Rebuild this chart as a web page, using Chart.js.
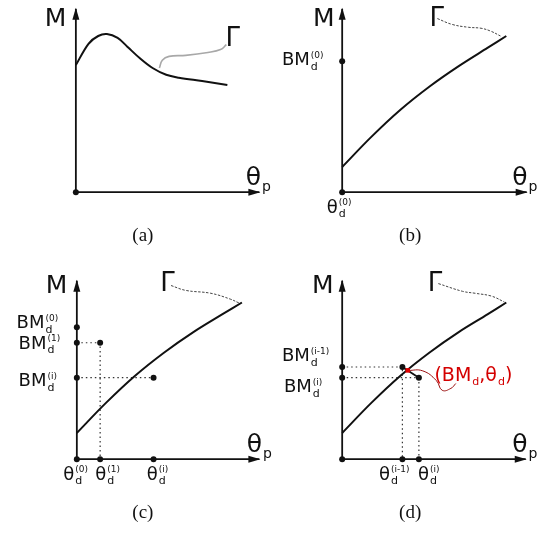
<!DOCTYPE html>
<html>
<head>
<meta charset="utf-8">
<script src="https://cdn.jsdelivr.net/npm/chart.js@4.4.1/dist/chart.umd.min.js"></script>
<style>
  html, body { margin: 0; padding: 0; background: #fff; }
  #wrap { position: relative; width: 554px; height: 533px; }
  #wrap canvas { position: absolute; }
</style>
</head>
<body>
<div id="wrap">
  <canvas id="pa" width="277" height="266" style="left:0;top:0"></canvas>
  <canvas id="pb" width="277" height="266" style="left:277px;top:0"></canvas>
  <canvas id="pc" width="277" height="267" style="left:0;top:266px"></canvas>
  <canvas id="pd" width="277" height="267" style="left:277px;top:266px"></canvas>
</div>
<script>
// schematic units: 0,0 is where the two axes meet in each panel

// (a) moment curve with a hump
const curveA_x = [0, 13, 23, 32, 43, 53, 66, 79, 93, 106, 130, 156];
const curveA_y = [131, 153, 161, 163, 159, 150, 138, 128, 121, 118, 114.5, 110.5];
const gammaA_x = [86, 89, 96, 113, 136, 149, 155];
const gammaA_y = [128, 136, 140, 141, 144, 147, 152];

// (b) rising curve, first guess BM_d^(0)
const curveB_x = [0, 30, 60, 90, 120, 150, 169];
const curveB_y = [26, 57, 85, 109, 130, 149, 161];
const gammaB_x = [98, 113, 130, 143, 153, 163];
const gammaB_y = [179, 173, 170, 169, 166, 161];
const bmB = [135];
const thetaB = [0];

// (c) iterations 0, 1, i
const curveC_x = [0, 30, 60, 90, 120, 150, 170];
const curveC_y = [27, 58, 86, 110, 131, 149.5, 161.5];
const gammaC_x = [97, 112, 138, 158, 167];
const gammaC_y = [179, 174, 171, 165, 161];
const bmC = [136, 120, 84];
const thetaC = [0, 24, 79];
const iterC_x = [24, 79];
const iterC_y = [120, 84];

// (d) iterations i-1 and i around the crossing
const curveD_x = [0, 30, 60, 90, 120, 150, 169];
const curveD_y = [27, 58, 86, 110, 131, 149.5, 161.5];
const gammaD_x = [99, 124, 137, 154, 167];
const gammaD_y = [181, 173, 171, 168, 162];
const bmD = [95, 84];
const thetaD = [0, 62, 79];
const iterD_x = [62, 79];
const iterD_y = [95, 84];
const crossD_x = [67.5];
const crossD_y = [91.5];
const wavyD_x = [67.5, 83, 97, 103, 112, 117];
const wavyD_y = [91.5, 91, 81, 71, 73, 78];

const zip = (xs, ys) => xs.map((x, i) => ({ x, y: ys[i] }));
const FONT = '"DejaVu Sans", sans-serif';

function line(data, extra) {
  return Object.assign({ data, showLine: true, borderColor: '#111', borderWidth: 2, pointRadius: 0, fill: false, clip: false }, extra);
}
function dots(data, extra) {
  return Object.assign({ data, showLine: false, pointRadius: 3, pointBackgroundColor: '#111', pointBorderWidth: 0, clip: false }, extra);
}
const dotted = { borderColor: '#333', borderWidth: 1.2, borderDash: [1.5, 3] };
const dashed = { borderColor: '#444', borderWidth: 1, borderDash: [2.5, 1.5], tension: 0.4 };
const smooth = { tension: 0.35 };

function axes(lx, ly) {
  return [
    line([{ x: 0, y: 0 }, { x: lx, y: 0 }], { borderWidth: 1.8 }),
    line([{ x: 0, y: 0 }, { x: 0, y: ly }], { borderWidth: 1.8 })
  ];
}

function drawRuns(ctx, x, y, runs, size, color) {
  ctx.fillStyle = color;
  ctx.textAlign = 'left';
  ctx.textBaseline = 'alphabetic';
  for (const r of runs) {
    if (typeof r === 'string') {
      ctx.font = `${size}px ${FONT}`;
      ctx.fillText(r, x, y);
      x += ctx.measureText(r).width;
    } else {
      let w = 0;
      if (r.sub) {
        ctx.font = `${Math.round(size * (r.subScale || 0.6))}px ${FONT}`;
        ctx.fillText(r.sub, x + 1, y + size * (r.subDy || 0.25));
        w = ctx.measureText(r.sub).width;
      }
      if (r.sup) {
        ctx.font = `${Math.round(size * 0.5)}px ${FONT}`;
        ctx.fillText(r.sup, x + 1, y - size * 0.42);
        w = Math.max(w, ctx.measureText(r.sup).width);
      }
      x += w + 1;
    }
  }
}

const decor = {
  id: 'decor',
  afterDatasetsDraw(chart, args, opts) {
    const { ctx } = chart;
    const xs = chart.scales.x, ys = chart.scales.y;
    const X = v => xs.getPixelForValue(v), Y = v => ys.getPixelForValue(v);
    ctx.save();
    // arrow heads
    ctx.fillStyle = '#111';
    const ox = X(0), oy = Y(0);
    const tx = X(opts.axisX), ty = Y(opts.axisY);
    ctx.beginPath();
    ctx.moveTo(tx + 1, oy); ctx.lineTo(tx - 11, oy - 3.5); ctx.lineTo(tx - 11, oy + 3.5); ctx.closePath(); ctx.fill();
    ctx.beginPath();
    ctx.moveTo(ox, ty - 1); ctx.lineTo(ox - 3.5, ty + 11); ctx.lineTo(ox + 3.5, ty + 11); ctx.closePath(); ctx.fill();
    // labels
    for (const l of opts.labels) {
      drawRuns(ctx, X(l.x), Y(l.y), l.runs, l.size, l.color || '#111');
    }
    // caption
    ctx.font = '19px "Liberation Serif", serif';
    ctx.fillStyle = '#111';
    ctx.textAlign = 'center';
    ctx.fillText(opts.caption, X(opts.capX), Y(opts.capY));
    ctx.restore();
  }
};

function commonLabels(mx, gx, gy) {
  return [
    { x: mx, y: 171, runs: ['M'], size: 25 },
    { x: gx, y: gy, runs: ['Γ'], size: 26 },
    { x: 175, y: 7, runs: ['θ', { sub: 'p', subScale: 0.55, subDy: 0.22 }], size: 25 }
  ];
}
const bm = (x, y, sup) => ({ x, y, runs: ['BM', { sub: 'd', sup }], size: 18 });
const th = (x, sup) => ({ x, y: -21, runs: ['θ', { sub: 'd', sup }], size: 18 });

function makePanel(id, ox, oy, datasets, deco) {
  const cv = document.getElementById(id);
  return new Chart(cv, {
    type: 'scatter',
    data: { datasets },
    options: {
      responsive: false,
      animation: false,
      devicePixelRatio: 1,
      layout: { padding: 0 },
      events: [],
      plugins: { legend: { display: false }, tooltip: { enabled: false }, decor: deco },
      scales: {
        x: { type: 'linear', display: false, min: -ox, max: cv.width - ox },
        y: { type: 'linear', display: false, min: -(cv.height - oy), max: oy }
      }
    },
    plugins: [decor]
  });
}

// (a)
makePanel('pa', 74, 194, [
  dots([{ x: 0, y: 0 }]),
  line(zip(curveA_x, curveA_y), smooth),
  line(zip(gammaA_x, gammaA_y), { borderColor: '#a8a8a8', borderWidth: 1.6, tension: 0.4 }),
  ...axes(189, 189)
], { axisX: 189, axisY: 189, labels: commonLabels(-32, 154, 151), caption: '(a)', capX: 69, capY: -50 });

// (b)
makePanel('pb', 63, 194, [
  dots(zip(thetaB.map(() => 0), bmB)),
  dots(zip(thetaB, thetaB.map(() => 0))),
  line(zip(curveB_x, curveB_y), smooth),
  line(zip(gammaB_x, gammaB_y), dashed),
  ...axes(190, 189)
], {
  axisX: 190, axisY: 189, caption: '(b)', capX: 70, capY: -50,
  labels: [...commonLabels(-30, 90, 171), bm(-62, 131, '(0)'), th(-16, '(0)')]
});

// (c)
makePanel('pc', 75, 195, [
  dots(zip(bmC.map(() => 0), bmC)),
  dots(zip(thetaC, thetaC.map(() => 0))),
  dots(zip(iterC_x, iterC_y)),
  line(zip(curveC_x, curveC_y), smooth),
  line([{ x: 0, y: bmC[1] }, { x: iterC_x[0], y: iterC_y[0] }, { x: iterC_x[0], y: 0 }], dotted),
  line([{ x: 0, y: bmC[2] }, { x: iterC_x[1], y: iterC_y[1] }], dotted),
  line(zip(gammaC_x, gammaC_y), dashed),
  ...axes(188, 184)
], {
  axisX: 188, axisY: 184, caption: '(c)', capX: 68, capY: -61,
  labels: [...commonLabels(-32, 86, 173),
    bm(-62, 135, '(0)'), bm(-60, 114, '(1)'), bm(-60, 75, '(i)'),
    th(-14, '(0)'), th(19, '(1)'), th(72, '(i)')]
});

// (d)
makePanel('pd', 63, 195, [
  dots(zip(crossD_x, crossD_y), { pointBackgroundColor: '#e00000', pointRadius: 3.2, pointStyle: 'rect' }),
  dots(zip(bmD.map(() => 0), bmD)),
  dots(zip(thetaD, thetaD.map(() => 0))),
  dots(zip(iterD_x, iterD_y)),
  line(zip(iterD_x, iterD_y), { borderWidth: 1.8 }),
  line(zip(curveD_x, curveD_y), smooth),
  line(zip(wavyD_x, wavyD_y), { borderColor: '#9a1010', borderWidth: 1, tension: 0.45 }),
  line([{ x: 0, y: bmD[0] }, { x: iterD_x[0], y: iterD_y[0] }, { x: iterD_x[0], y: 0 }], dotted),
  line([{ x: 0, y: bmD[1] }, { x: iterD_x[1], y: iterD_y[1] }, { x: iterD_x[1], y: 0 }], dotted),
  line(zip(gammaD_x, gammaD_y), dashed),
  ...axes(189, 184)
], {
  axisX: 189, axisY: 184, caption: '(d)', capX: 70, capY: -61,
  labels: [...commonLabels(-31, 88, 173),
    bm(-62, 101, '(i-1)'), bm(-60, 69, '(i)'),
    th(38, '(i-1)'), th(78, '(i)'),
    { x: 95, y: 81, runs: ['(BM', { sub: 'd' }, ',θ', { sub: 'd' }, ')'], size: 19, color: '#d40000' }]
});
</script>
</body>
</html>
